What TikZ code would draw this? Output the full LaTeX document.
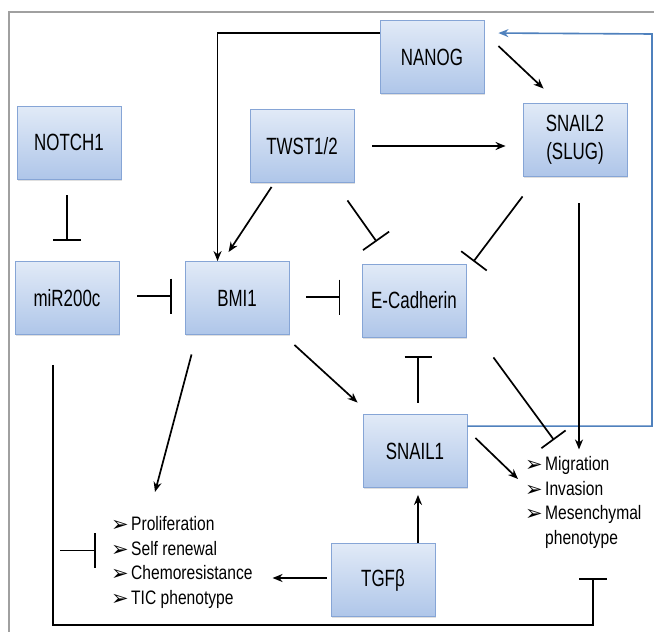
\documentclass[tikz,border=0pt]{standalone}
\usepackage{fontspec}
\setmainfont{Liberation Sans}[FakeStretch=0.8]
\newfontfamily\boxfont{Liberation Sans}[FakeStretch=0.72]
\newfontfamily\listfont{Liberation Sans}[FakeStretch=0.8]
\newfontfamily\bulletfont{DejaVu Sans}
\usetikzlibrary{arrows.meta,shadows,calc}
\definecolor{boxtop}{HTML}{E1EAF7}
\definecolor{boxbot}{HTML}{AFC6E9}
\definecolor{boxedge}{HTML}{86A5D6}
\definecolor{fbblue}{HTML}{4F81BD}
\definecolor{framegray}{HTML}{A0A0A0}
\newcommand{\bul}{\makebox[20pt][l]{\raisebox{-1pt}{\bulletfont\fontsize{21}{21}\selectfont ➢}}}
\tikzset{
 box/.style={draw=boxedge, line width=0.9pt, top color=boxtop, bottom color=boxbot,
   minimum width=104pt, minimum height=73pt, inner sep=0pt,
   font=\boxfont\fontsize{23.5}{28}\selectfont, align=center,
   drop shadow={shadow xshift=1.2pt, shadow yshift=-1.5pt, opacity=0.25}},
 act/.style={line width=1.7pt, -{Stealth[length=10pt,width=8pt]}},
 inh/.style={line width=1.7pt, -{Bar[width=#1]}},
 inh/.default=32pt,
 blueact/.style={line width=1.6pt, draw=fbblue, -{Stealth[length=10pt,width=8pt]}},
 listtext/.style={inner sep=0pt, anchor=north west, font=\listfont\fontsize{19.5}{24.5}\selectfont}
}
\begin{document}
\begin{tikzpicture}[x=1pt,y=-1pt]
\useasboundingbox (0,0) rectangle (654,632);
\fill[white] (0,0) rectangle (654,632);
\draw[framegray, line width=1.2pt] (9,632) -- (9,12) -- (654,12);

% boxes
\node[box] (NANOG) at (432,57) {NANOG};
\node[box] (NOTCH1) at (69,142.5) {NOTCH1};
\node[box] (TWST) at (302,146) {TWST1/2};
\node[box] (SNAIL2) at (575,139.5) {SNAIL2\\(SLUG)};
\node[box] (miR200c) at (67,298) {miR200c};
\node[box] (BMI1) at (237,298) {BMI1};
\node[box] (Ecad) at (414,300.5) {E-Cadherin};
\node[box] (SNAIL1) at (415,451) {SNAIL1};
\node[box] (TGFb) at (383,580) {TGFβ};

% lists
\node[listtext] (prolif) at (111,513.5) {\begin{tabular}{@{}l@{}}
\bul Proliferation\\
\bul Self renewal\\
\bul Chemoresistance\\
\bul TIC phenotype
\end{tabular}};
\node[listtext] (mig) at (525,453.4) {\begin{tabular}{@{}l@{}}
\bul Migration\\
\bul Invasion\\
\bul Mesenchymal\\
\hspace*{20pt}phenotype
\end{tabular}};

% connectors
\draw[act] ($(NANOG.north west)+(0,13)$) -| ($(BMI1.north west)+(33,0)$);
\draw[act] ($(NANOG.north east)+(14,26)$) -- ($(SNAIL2.north west)+(21,-14)$);
\coordinate (bluecorner) at (652,34);
\draw[blueact] ($(SNAIL1.north east)+(0,12)$) -| (bluecorner) -- ($(NANOG.north east)+(14,13)$);
\draw[act] ($(TWST.east)+(18,0)$) -- ($(SNAIL2.west |- TWST.east)+(-17,0)$);
\draw[act] ($(TWST.south west)+(22,4)$) -- ($(BMI1.north west)+(44,-9)$);
\draw[inh] ($(TWST.south east)+(-7,17.5)$) -- ($(Ecad.north west)+(15,-22)$);
\draw[inh] ($(SNAIL2.south west)+(0,20)$) -- ($(Ecad.north east)+(7,-2)$);
\draw[act] ($(SNAIL2.south)+(4,27)$) -- ($(SNAIL2.south)+(4,273)$);
\draw[inh=28pt] ($(NOTCH1.south)+(-2,16)$) -- ($(miR200c.north)+(0,-20.5)$);
\draw[inh=35pt] ($(miR200c.east)+(18,-2)$) -- ($(BMI1.west)+(-13,-2)$);
\draw[inh=35pt] ($(BMI1.east)+(17,-1)$) -- ++(34,0);
\draw[act] ($(BMI1.south east)+(5,10)$) -- ($(SNAIL1.north west)+(-5,-11.5)$);
\draw[act] ($(BMI1.south west)+(7,19.5)$) -- ($(prolif.north west)+(44,-21.5)$);
\draw[inh=27pt] ($(SNAIL1.north)+(3,-11.5)$) -- ($(Ecad.south)+(4,19)$);
\draw[inh=30pt] ($(Ecad.south east)+(27,20)$) -- ($(mig.north west)+(29,-13.4)$);
\draw[act] ($(SNAIL1.east)+(8,-13)$) -- ($(mig.north west)+(-7,25.6)$);
\draw[act] ($(TGFb.north)+(35,0)$) -- ($(SNAIL1.south)+(3,7)$);
\draw[act] ($(TGFb.west)+(-4,-2)$) -- ++(-54,0);
\coordinate (bottomcorner) at (593,625);
\draw[inh=28pt] ($(miR200c.south)+(-14,30)$) |- (bottomcorner) -- ++(0,-47);
\draw[inh=35pt] ($(prolif.north west)+(-51,37)$) -- ++(36,0);
\end{tikzpicture}
\end{document}
